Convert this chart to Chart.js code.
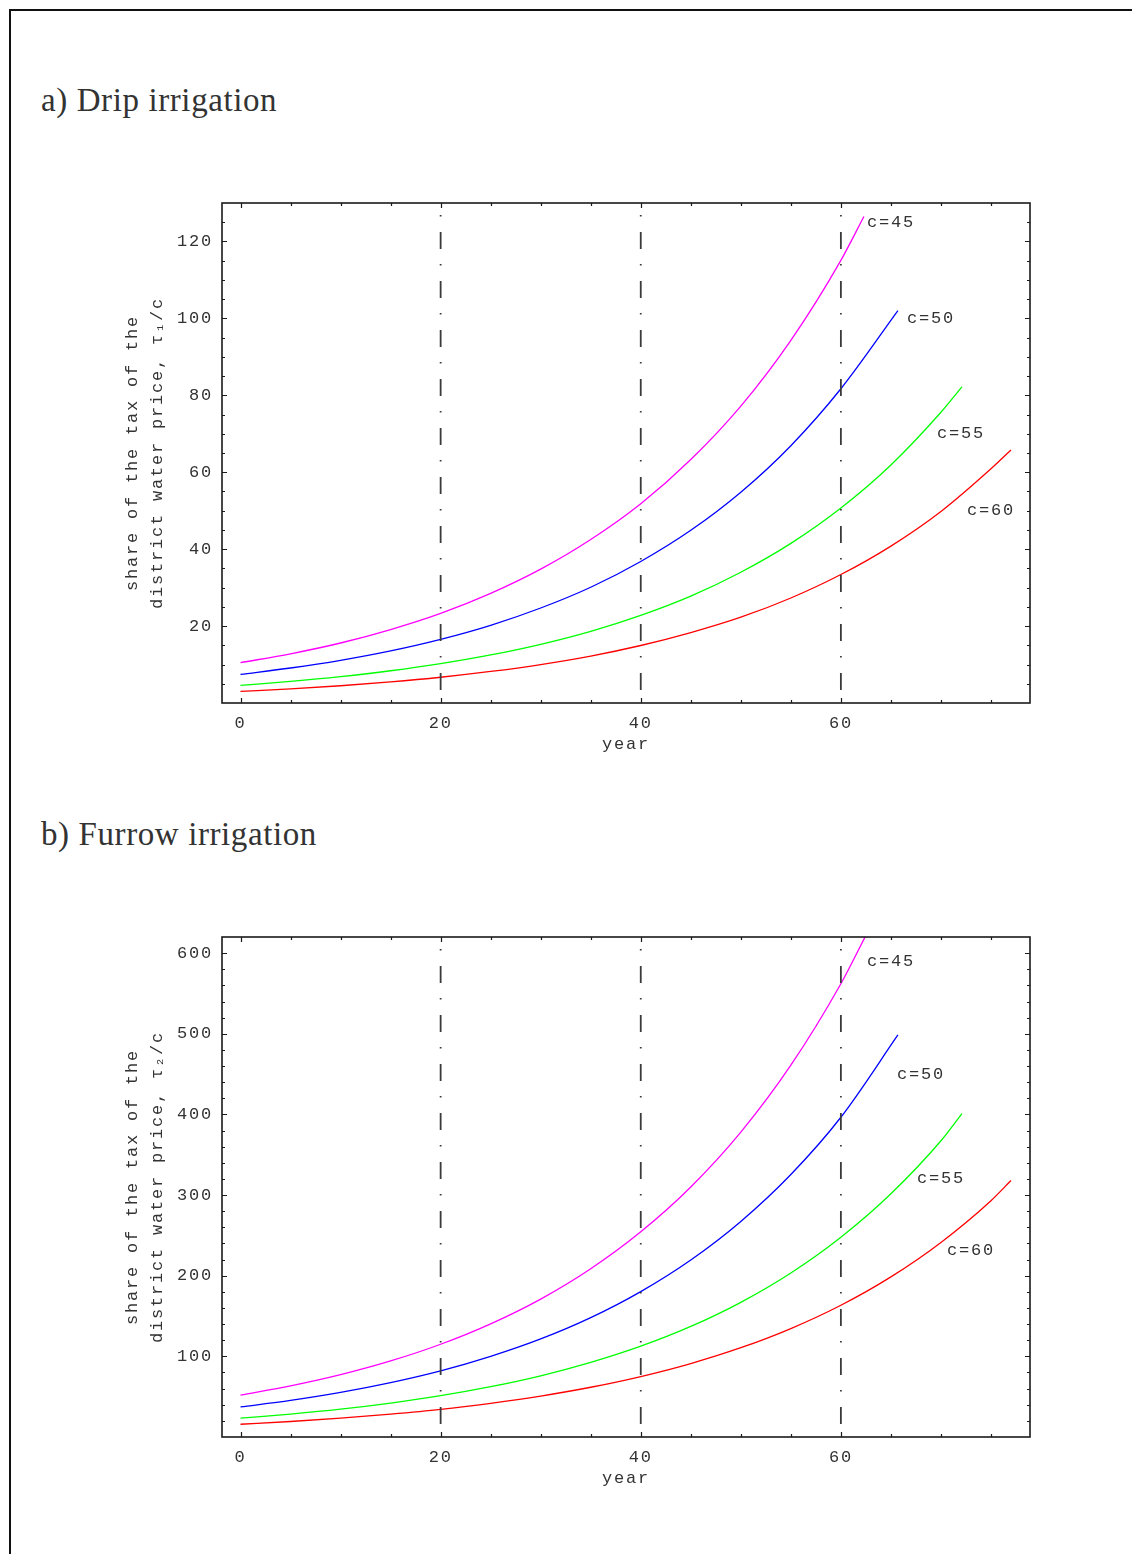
<!DOCTYPE html>
<html>
<head>
<meta charset="utf-8">
<script src="https://cdn.jsdelivr.net/npm/chart.js@4.4.1/dist/chart.umd.min.js"></script>
<style>
  body { margin: 0; background: #fff; width: 1132px; height: 1554px; position: relative; overflow: hidden; }
  .frame { position: absolute; left: 9px; top: 9px; width: 1200px; height: 1600px; border-left: 2px solid #111; border-top: 2px solid #111; }
  .heading { position: absolute; left: 41px; font-family: "Liberation Serif", serif; font-size: 33px; line-height: 33px; letter-spacing: 0.6px; color: #333; white-space: nowrap; }
  canvas { position: absolute; left: 0; }
</style>
</head>
<body>
<div class="frame"></div>
<div class="heading" style="top:84px">a) Drip irrigation</div>
<canvas id="drip-chart" width="1132" height="660" style="top:120px"></canvas>
<div class="heading" style="top:818px">b) Furrow irrigation</div>
<canvas id="furrow-chart" width="1132" height="640" style="top:880px"></canvas>
<script>
const yearsC45 = [0, 5, 10, 15, 20, 25, 30, 35, 40, 45, 50, 55, 60, 62.3];
const yearsC50 = [0, 5, 10, 15, 20, 25, 30, 35, 40, 45, 50, 55, 60, 65.7];
const yearsC55 = [0, 5, 10, 15, 20, 25, 30, 35, 40, 45, 50, 55, 60, 65, 70, 72.1];
const yearsC60 = [0, 5, 10, 15, 20, 25, 30, 35, 40, 45, 50, 55, 60, 65, 70, 75, 77];

// a) drip irrigation, tau1/c
const dripC45 = [10.5, 12.8, 15.6, 19.1, 23.3, 28.5, 34.8, 42.5, 51.8, 63.3, 77.2, 94.3, 115.1, 126.5];
const dripC50 = [7.45, 9.1, 11.1, 13.55, 16.55, 20.2, 24.7, 30.1, 36.8, 44.9, 54.8, 66.9, 81.7, 102];
const dripC55 = [4.6, 5.62, 6.86, 8.38, 10.24, 12.5, 15.27, 18.65, 22.8, 27.8, 34.0, 41.5, 50.7, 61.9, 75.6, 82.2];
const dripC60 = [3.0, 3.67, 4.48, 5.48, 6.7, 8.2, 10.0, 12.2, 14.95, 18.3, 22.3, 27.3, 33.4, 40.8, 49.8, 60.9, 65.8];

// b) furrow irrigation, tau2/c
const yearsF45 = [0, 5, 10, 15, 20, 25, 30, 35, 40, 45, 50, 55, 60, 62.5];
const furrowC45 = [52, 63.4, 77.3, 94.3, 115, 140.3, 171, 208.6, 254.4, 310, 378, 461, 562, 622];
const furrowC50 = [37.3, 45.4, 55.3, 67.4, 82, 100, 121.6, 148, 180.3, 219.5, 267.3, 325.5, 396.5, 498.5];
const furrowC55 = [23.3, 28.4, 34.5, 42.1, 51.2, 62.4, 75.9, 92.5, 112.6, 137.1, 167, 203.4, 247.7, 301.6, 367.3, 401];
const furrowC60 = [15.8, 19.2, 23.3, 28.3, 34.2, 41.8, 50.8, 61.7, 75.0, 91.1, 110.7, 134.5, 163.4, 198.6, 241.3, 293, 318];

const markerYears = [20, 40, 60];
const xTicks = [0, 20, 40, 60];
const dripYTicks = [20, 40, 60, 80, 100, 120];
const furrowYTicks = [100, 200, 300, 400, 500, 600];
const curveNames = ["c=45", "c=50", "c=55", "c=60"];
const curveColors = ["#ff00ff", "#0000ff", "#00ff00", "#ff0000"];

// where the c=.. labels sit, in data units
const dripLabelPos = [[62.6, 125], [66.6, 100], [69.6, 70], [72.6, 50]];
const furrowLabelPos = [[62.6, 590], [65.6, 449], [67.6, 321], [70.6, 231]];

const monoFont = "'Liberation Mono', 'DejaVu Sans Mono', monospace";
const textColor = "#333";
const spacing = "1.8px";

function pairs(xs, ys) {
  return xs.map((x, i) => ({ x: x, y: ys[i] }));
}

const frameTicks = {
  id: "frameTicks",
  beforeDraw(chart) {
    // the reference text is spaced out a bit
    chart.ctx.letterSpacing = spacing;
  },
  afterDraw(chart, args, opts) {
    const { ctx, chartArea: a } = chart;
    const xs = chart.scales.x;
    const ys = chart.scales.y;
    ctx.save();
    ctx.strokeStyle = "#1a1a1a";
    ctx.lineWidth = 1.2;
    ctx.beginPath();
    for (let v = 0; v <= xs.max; v += 5) {
      const px = Math.round(xs.getPixelForValue(v)) + 0.5;
      const len = v % 20 === 0 ? 5 : 3;
      ctx.moveTo(px, a.bottom);
      ctx.lineTo(px, a.bottom - len);
      ctx.moveTo(px, a.top);
      ctx.lineTo(px, a.top + len);
    }
    for (let v = opts.yMinor; v < ys.max; v += opts.yMinor) {
      const py = Math.round(ys.getPixelForValue(v)) + 0.5;
      const len = v % opts.yMajor === 0 ? 5 : 3;
      ctx.moveTo(a.left, py);
      ctx.lineTo(a.left + len, py);
      ctx.moveTo(a.right, py);
      ctx.lineTo(a.right - len, py);
    }
    ctx.stroke();
    ctx.lineWidth = 1.6;
    ctx.strokeRect(a.left, a.top, a.width, a.height);

    // curve labels
    ctx.fillStyle = textColor;
    ctx.font = "17px " + monoFont;
    ctx.letterSpacing = spacing;
    ctx.textAlign = "left";
    ctx.textBaseline = "middle";
    opts.labels.forEach((p, i) => {
      ctx.fillText(curveNames[i], xs.getPixelForValue(p[0]), ys.getPixelForValue(p[1]));
    });
    ctx.restore();
  },
};

function makeChart(canvas, cfg) {
  const datasets = [];
  markerYears.forEach((yr) => {
    datasets.push({
      data: [{ x: yr, y: cfg.yMax }, { x: yr, y: 0 }],
      borderColor: "#3a3a3a",
      borderWidth: 1.8,
      borderDash: [17, 15, 1.5, 15.5],
      borderDashOffset: 20,
      pointRadius: 0,
      tension: 0,
    });
  });
  cfg.series.forEach((s, i) => {
    datasets.push({
      data: pairs(s.years, s.values),
      borderColor: curveColors[i],
      borderWidth: 1.3,
      pointRadius: 0,
      cubicInterpolationMode: "monotone",
    });
  });

  return new Chart(canvas, {
    type: "line",
    data: { datasets: datasets },
    plugins: [frameTicks],
    options: {
      responsive: false,
      animation: false,
      layout: { padding: { left: 110, top: cfg.padTop, right: 102, bottom: cfg.padBottom } },
      plugins: {
        legend: { display: false },
        tooltip: { enabled: false },
        frameTicks: { yMinor: cfg.yMinor, yMajor: cfg.yMajor, labels: cfg.labels },
      },
      scales: {
        x: {
          type: "linear",
          min: -1.85,
          max: 78.9,
          afterBuildTicks: (scale) => {
            scale.ticks = xTicks.map((v) => ({ value: v }));
          },
          afterFit: (scale) => {
            scale.height = 60;
          },
          grid: { display: false, drawTicks: false },
          border: { display: false },
          ticks: {
            color: textColor,
            padding: 10,
            maxRotation: 0,
            font: { family: monoFont, size: 17 },
          },
          title: {
            display: true,
            text: "year",
            color: textColor,
            padding: { top: 0, bottom: 9 },
            font: { family: monoFont, size: 17, lineHeight: "20px" },
          },
        },
        y: {
          type: "linear",
          min: 0,
          max: cfg.yMax,
          afterBuildTicks: (scale) => {
            scale.ticks = cfg.yTicks.map((v) => ({ value: v }));
          },
          afterFit: (scale) => {
            scale.width = 112;
          },
          grid: { display: false, drawTicks: false },
          border: { display: false },
          ticks: {
            color: textColor,
            padding: 9,
            font: { family: monoFont, size: 17 },
          },
          title: {
            display: true,
            text: cfg.yTitle,
            color: textColor,
            padding: { top: 10, bottom: 0 },
            font: { family: monoFont, size: 17, lineHeight: "25px" },
          },
        },
      },
    },
  });
}

document.addEventListener("DOMContentLoaded", function () {
  makeChart(document.getElementById("drip-chart"), {
    yMax: 130,
    yMinor: 5,
    yMajor: 20,
    yTicks: dripYTicks,
    padTop: 83,
    padBottom: 17,
    yTitle: ["share of the tax of the", "district water price, \u03c4\u2081/c"],
    labels: dripLabelPos,
    series: [
      { years: yearsC45, values: dripC45 },
      { years: yearsC50, values: dripC50 },
      { years: yearsC55, values: dripC55 },
      { years: yearsC60, values: dripC60 },
    ],
  });

  makeChart(document.getElementById("furrow-chart"), {
    yMax: 620,
    yMinor: 20,
    yMajor: 100,
    yTicks: furrowYTicks,
    padTop: 57,
    padBottom: 23,
    yTitle: ["share of the tax of the", "district water price, \u03c4\u2082/c"],
    labels: furrowLabelPos,
    series: [
      { years: yearsF45, values: furrowC45 },
      { years: yearsC50, values: furrowC50 },
      { years: yearsC55, values: furrowC55 },
      { years: yearsC60, values: furrowC60 },
    ],
  });
});
</script>
</body>
</html>
